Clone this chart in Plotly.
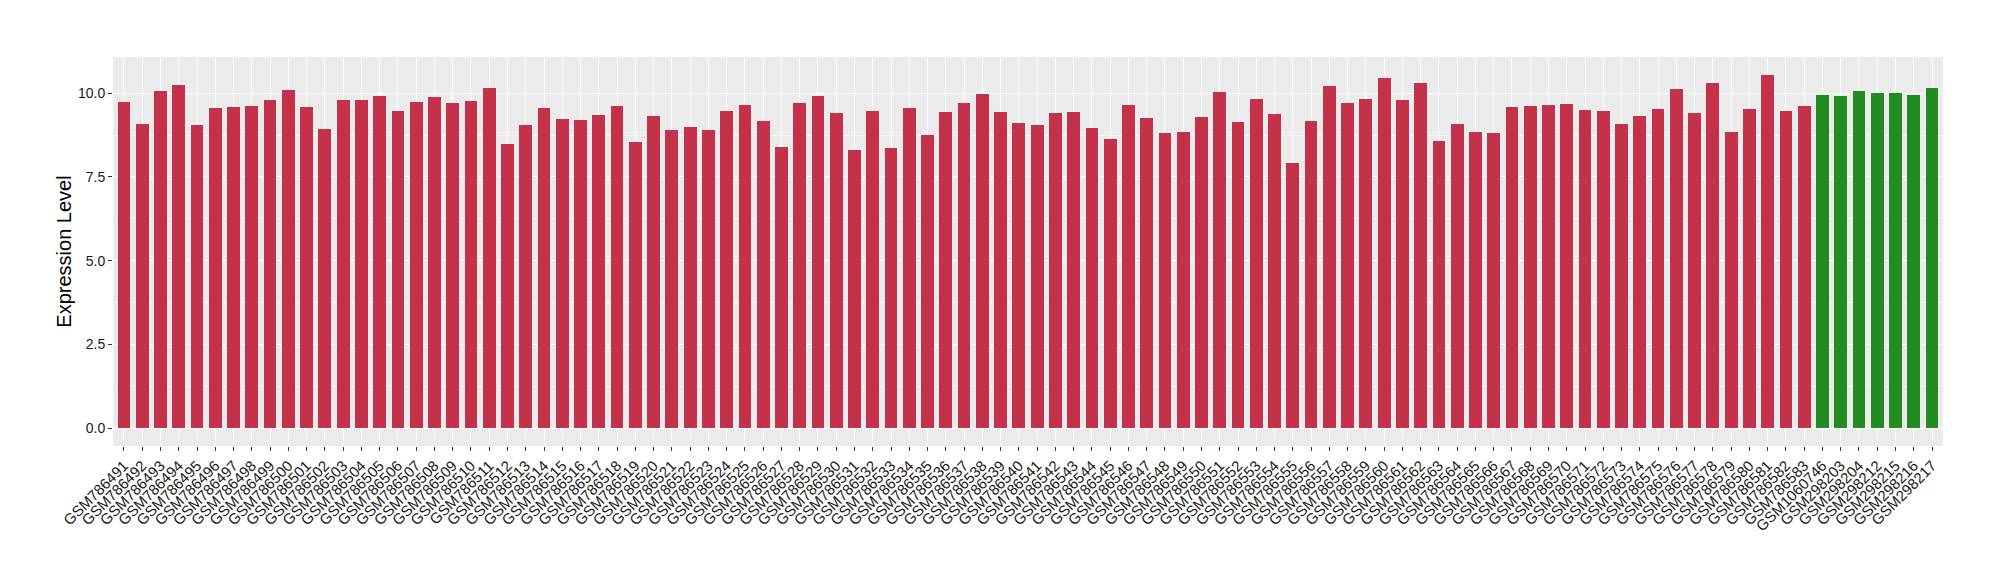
import plotly.graph_objects as go

# red group: GSM786491 .. GSM786583
red_samples = [f"GSM{n}" for n in range(786491, 786584)]
red_values = [
    9.74, 9.09, 10.07, 10.25, 9.06, 9.56, 9.59, 9.62, 9.80, 10.10,
    9.59, 8.94, 9.80, 9.80, 9.92, 9.47, 9.74, 9.89, 9.71, 9.77,
    10.16, 8.49, 9.06, 9.56, 9.24, 9.21, 9.36, 9.62, 8.55, 9.33,
    8.91, 9.00, 8.91, 9.47, 9.65, 9.18, 8.40, 9.71, 9.92, 9.41,
    8.31, 9.47, 8.37, 9.56, 8.76, 9.44, 9.71, 9.98, 9.44, 9.12,
    9.06, 9.41, 9.44, 8.97, 8.64, 9.65, 9.27, 8.82, 8.85, 9.30,
    10.04, 9.15, 9.83, 9.38, 7.93, 9.18, 10.22, 9.71, 9.83, 10.46,
    9.80, 10.31, 8.58, 9.09, 8.85, 8.82, 9.59, 9.62, 9.65, 9.68,
    9.50, 9.47, 9.09, 9.33, 9.53, 10.13, 9.41, 10.31, 8.85, 9.53,
    10.55, 9.47, 9.62,
]

# green group
green_samples = ["GSM1060746", "GSM298203", "GSM298204", "GSM298212",
                 "GSM298215", "GSM298216", "GSM298217"]
green_values = [9.95, 9.92, 10.07, 10.01, 10.01, 9.95, 10.16]

all_samples = red_samples + green_samples
ymax = max(red_values + green_values)

fig = go.Figure()
fig.add_trace(go.Bar(x=red_samples, y=red_values, marker_color="#C4314B",
                     marker_line_width=0, width=0.7, showlegend=False))
fig.add_trace(go.Bar(x=green_samples, y=green_values, marker_color="#228B22",
                     marker_line_width=0, width=0.7, showlegend=False))

# the page body adds an 8px offset, margins compensate for it
fig.update_layout(
    width=2000, height=580,
    margin=dict(l=105, r=65, t=49, b=142),
    paper_bgcolor="white",
    plot_bgcolor="#EBEBEB",
    font=dict(family="Liberation Sans, Arial, sans-serif", color="#1a1a1a"),
    bargap=0,
)
fig.update_xaxes(
    type="category", categoryorder="array", categoryarray=all_samples,
    range=[-0.6, len(all_samples) - 0.4],
    tickangle=-45, tickfont=dict(size=15, color="#1a1a1a"),
    showgrid=True, gridcolor="white", gridwidth=1.2,
    ticks="outside", ticklen=4, tickcolor="#333333",
    showline=False, zeroline=False, automargin=False,
)
fig.update_yaxes(
    range=[-0.05 * ymax, ymax * 1.05],
    tickvals=[0, 2.5, 5, 7.5, 10], ticktext=["0.0", "2.5", "5.0", "7.5", "10.0"],
    tickfont=dict(size=14, color="#1a1a1a"),
    showgrid=True, gridcolor="white", gridwidth=1.2,
    minor=dict(tickvals=[1.25, 3.75, 6.25, 8.75], showgrid=True,
               gridcolor="#F5F5F5", gridwidth=0.6),
    ticks="outside", ticklen=4, tickcolor="#333333",
    zeroline=False, showline=False, automargin=False,
    title=dict(text="Expression Level", font=dict(size=20, color="black"), standoff=0),
)

fig.write_html("out.html")
